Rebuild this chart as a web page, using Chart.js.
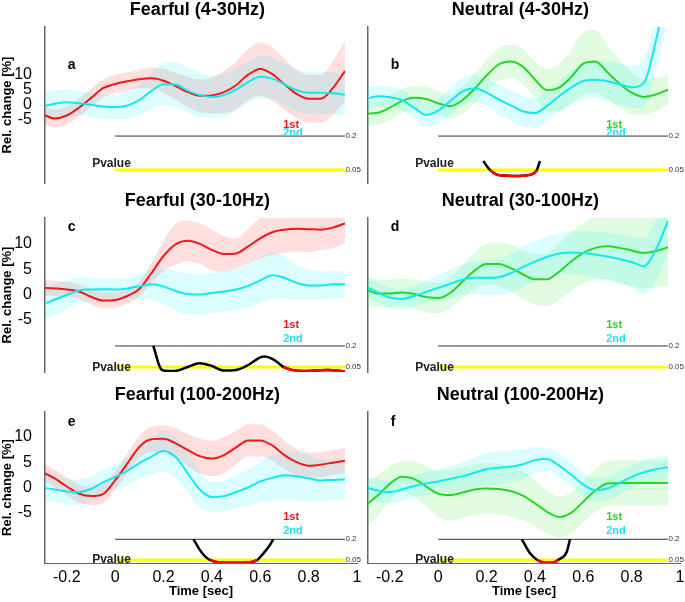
<!DOCTYPE html>
<html>
<head>
<meta charset="utf-8">
<script src="https://cdn.jsdelivr.net/npm/chart.js@4/dist/chart.umd.min.js"></script>
<style>
  body { margin: 0; background: #fff; }
  #wrap { position: relative; width: 685px; height: 602px; }
  canvas { position: absolute; }
</style>
</head>
<body>
<div id="wrap">
  <canvas id="pa" width="364" height="190" style="left:0;top:0"></canvas>
  <canvas id="pb" width="321" height="190" style="left:364px;top:0"></canvas>
  <canvas id="pc" width="364" height="190" style="left:0;top:190px"></canvas>
  <canvas id="pd" width="321" height="190" style="left:364px;top:190px"></canvas>
  <canvas id="pe" width="364" height="222" style="left:0;top:380px"></canvas>
  <canvas id="pf" width="321" height="222" style="left:364px;top:380px"></canvas>
</div>
<script>
// time axis (sec)
const times = [-0.3, -0.25, -0.2, -0.15, -0.1, -0.05, 0, 0.05, 0.1, 0.15, 0.2, 0.25, 0.3,
  0.35, 0.4, 0.45, 0.5, 0.55, 0.6, 0.65, 0.7, 0.75, 0.8, 0.85, 0.9, 0.95];
const xTicks = [-0.2, 0, 0.2, 0.4, 0.6, 0.8, 1];
const yTicks = [-5, 0, 5, 10];
const pTicks = [0.05, 0.2];
const pLines = [0.2, 0.05];

// a: Fearful (4-30Hz)
const aFirst = [-3.4, -4.8, -3.8, -1.2, 2, 5.3, 6.7, 7.6, 8.3, 8.6, 7.8, 6, 4, 2.8, 2.9, 4, 6.3, 9.8, 11.7, 10, 6.6, 3.4, 1.8, 1.8, 5.3, 11];
const aFirstErr = [3, 3, 3, 3, 3, 3, 3, 3, 3, 3.5, 4, 4.5, 5, 5.5, 6, 7, 8, 8.5, 9, 9, 8.5, 8, 8, 8, 9, 10];
const aSecond = [-0.8, 0.1, 0.6, 0.3, -0.2, -0.8, -1, -0.5, 1.3, 4.4, 6.6, 6.5, 4.5, 3, 2.4, 3, 4.8, 7.3, 9.1, 8.5, 6.6, 4.6, 3.8, 3.8, 3.6, 3.1];
const aSecondErr = [4.5, 4.5, 4.5, 4, 4, 4, 4, 4.5, 5, 6, 7, 7.5, 7.5, 7.5, 7, 7, 7, 7, 7, 7, 7, 7, 7, 7, 7, 7];

// b: Neutral (4-30Hz)
const bFirst = [-3.2, -2.9, -1.2, 1, 2.1, 1.7, 0.3, -0.7, 1.3, 5, 9.5, 13.2, 14.2, 12.5, 8.2, 4.7, 5.5, 9, 13.5, 14.2, 10.6, 6.8, 3.8, 2.4, 3.2, 4.8];
const bFirstErr = [4, 4, 4, 4, 4, 4, 4, 4, 4.5, 5, 5, 5.5, 5.5, 6, 6, 7, 8, 9, 10.5, 10.5, 9, 8, 7, 6, 5.5, 5];
const bSecond = [1.7, 2.6, 2.3, 1.3, -1.2, -3.6, -2.2, 1, 4.2, 5.3, 3.8, 1.6, -0.4, -2.4, -3, -0.6, 2.6, 5.5, 7.7, 8.1, 7.6, 6.6, 5.6, 7, 21, 40];
const bSecondErr = [3.5, 3.5, 3.5, 3.5, 3.5, 4, 4, 4.5, 4.5, 4.5, 4.5, 5, 5, 5, 5, 5, 5, 5.5, 6, 6, 6.5, 7, 7, 8, 10, 12];
const bPTime = [0.187, 0.205, 0.215, 0.242, 0.27, 0.31, 0.35, 0.38, 0.394, 0.408, 0.421];
const bPValue = [0.09, 0.062, 0.05, 0.03, 0.026, 0.024, 0.025, 0.029, 0.035, 0.05, 0.09];
const bSig = [0.215, 0.408];

// c: Fearful (30-10Hz)
const cFirst = [1.35, 1.2, 1, 0.6, -0.45, -1.2, -1.1, -0.3, 1.1, 4.2, 7.6, 9.9, 10.6, 10, 8.8, 8, 8.1, 9.5, 11.1, 12.3, 12.8, 13, 12.9, 12.8, 13.2, 14];
const cFirstErr = [1.5, 1.5, 1.5, 1.5, 1.5, 1.5, 1.5, 1.5, 1.5, 2, 3, 4, 4, 4, 4, 3.5, 3, 3.5, 4, 4.5, 4.5, 4.5, 4.5, 4, 4, 4];
const cSecond = [-1.9, -1, -0.1, 0.8, 1, 1.05, 1, 1.2, 1.6, 2, 1.6, 0.7, 0.1, 0, 0.3, 0.6, 1, 1.7, 2.8, 3.8, 3.3, 2.3, 1.8, 1.8, 2, 2];
const cSecondErr = [3, 3, 2.8, 2.5, 2.3, 2, 2, 2, 2.5, 3, 3.5, 4, 4, 4, 4, 4, 4, 4.2, 4.5, 4.6, 4.2, 3.5, 3, 2.8, 2.7, 2.7];
const cPTime = [0.158, 0.17, 0.18, 0.193, 0.22, 0.26, 0.3, 0.35, 0.4, 0.45, 0.5, 0.55, 0.6, 0.62, 0.65, 0.68, 0.696, 0.73, 0.78, 0.83, 0.88, 0.95];
const cPValue = [0.2, 0.129, 0.071, 0.029, 0.021, 0.025, 0.05, 0.076, 0.057, 0.025, 0.029, 0.064, 0.118, 0.124, 0.107, 0.071, 0.05, 0.029, 0.021, 0.025, 0.029, 0.018];
const cSig = [0.696, 0.95];

// d: Neutral (30-100Hz)
const dFirst = [1, 0.2, 0.2, 0.4, 0.1, -0.5, -0.7, 0.3, 2.5, 4.7, 6, 6, 5.2, 4, 3, 3, 4.5, 6.5, 8.2, 9.2, 9.5, 9.2, 8.7, 8.2, 8.6, 9.3];
const dFirstErr = [2.7, 2.7, 2.7, 2.7, 2.8, 3, 3, 3, 3.3, 3.6, 4, 4.3, 4.6, 4.8, 5, 5.2, 5.5, 5.8, 6, 6.3, 6.5, 6.8, 7, 7, 7.2, 7.5];
const dSecond = [1.6, 0.4, -0.6, -0.9, -0.3, 0.5, 1.3, 2.1, 2.9, 3.3, 3.3, 3.4, 4.2, 5.4, 6.5, 7.4, 8.1, 8.3, 8.2, 7.9, 7.5, 7, 6.4, 5.6, 8.8, 14.5];
const dSecondErr = [2, 2, 2, 2, 2, 2.2, 2.5, 2.8, 3, 3.2, 3.4, 3.6, 3.8, 4, 4, 4, 4, 4.2, 4.4, 4.6, 4.8, 5, 5, 5.5, 6, 6.5];

// e: Fearful (100-200Hz)
const eFirst = [3, 1.8, 0.2, -1.2, -1.7, -1.3, 1.4, 4.7, 8, 9.5, 9.6, 8.7, 7.4, 6.2, 5.7, 6.4, 7.9, 9.3, 9.3, 8.3, 6.4, 5, 4.3, 4.5, 4.9, 5.3];
const eFirstErr = [1.8, 1.8, 1.8, 1.8, 1.8, 1.8, 1.8, 2, 2.2, 2.5, 2.7, 3, 3.2, 3.4, 3.5, 3.5, 3.3, 3.2, 3.2, 3, 2.8, 2.7, 2.6, 2.5, 2.5, 2.5];
const eSecond = [0, -0.4, -0.8, -0.9, -0.3, 1, 2.1, 3.3, 4.8, 6.1, 7.2, 6, 2.8, -0.4, -1.9, -1.7, -0.9, 0, 1.2, 1.9, 2.4, 2.2, 1.8, 1.4, 1.5, 1.6];
const eSecondErr = [2.5, 2.5, 2.5, 2.5, 2.5, 2.5, 2.5, 2.8, 3, 3.5, 4, 4, 3.8, 3.5, 3, 3, 3.2, 3.6, 4, 4.5, 4.8, 4.8, 4.5, 4.2, 4, 4];
const ePTime = [0.324, 0.35, 0.375, 0.392, 0.43, 0.49, 0.55, 0.588, 0.613, 0.64, 0.654];
const ePValue = [0.2, 0.123, 0.07, 0.05, 0.031, 0.029, 0.031, 0.05, 0.098, 0.159, 0.2];
const eSig = [0.392, 0.588];

// f: Neutral (100-200Hz)
const fFirst = [-3.5, -1.6, 0.7, 2.1, 1.7, 0.2, -1.2, -1.5, -1, -0.4, -0.2, -0.3, -0.7, -1.6, -3.1, -4.8, -5.8, -5, -2.8, -0.6, 0.8, 0.9, 0.9, 0.9, 0.9, 0.9];
const fFirstErr = [4.5, 4, 3.5, 3, 3.5, 4, 4.5, 5, 5, 5, 5, 5, 5, 4.8, 4.5, 4.2, 4, 4, 4, 4.2, 4.5, 4.5, 4.5, 4.5, 4.5, 4.5];
const fSecond = [0, -0.6, -0.9, -0.4, 0.3, 0.8, 1.2, 1.7, 2.2, 2.9, 3.6, 3.9, 4.1, 4.6, 5.4, 5.6, 4.3, 2.5, 0.6, -0.5, -0.2, 0.9, 2.1, 3, 3.6, 4];
const fSecondErr = [2.2, 2.2, 2.2, 2.2, 2.2, 2.3, 2.4, 2.5, 2.8, 3, 3.2, 3.3, 3.2, 3, 2.6, 2.3, 2.3, 2.3, 2.3, 2.3, 2.3, 2.3, 2.3, 2.3, 2.3, 2.3];
const fPTime = [0.346, 0.38, 0.408, 0.43, 0.455, 0.48, 0.497, 0.532, 0.545];
const fPValue = [0.2, 0.098, 0.052, 0.034, 0.03, 0.034, 0.052, 0.11, 0.2];
const fSig = [0.405, 0.5];

const FONT = '"Liberation Sans", Arial, sans-serif';
Chart.defaults.font.family = FONT;
Chart.defaults.color = '#000';

const RED = '#f01818', CYAN = '#12e8ee', GREEN = '#26d626';
const BAND = { red: 'rgba(255,0,0,0.13)', cyan: 'rgba(0,240,255,0.14)', green: 'rgba(0,220,0,0.12)' };

const rows = [
  { yRange: [-26.3, 25.7], pRange: [-0.007, 0.681], pad: [27, 7], letterY: 13, firstY: -7, secondY: -9.7, pvalueY: 0.08 },
  { yRange: [-15.3, 15.1], pRange: [0.014, 1.114], pad: [28, 8], letterY: 13.3, firstY: -6, secondY: -8.8, pvalueY: 0.045 },
  { yRange: [-14.9, 14.9], pRange: [0.028, 1.123], pad: [32, 0], letterY: 12.9, firstY: -5.9, secondY: -8.6, pvalueY: 0.05 }
];

const panels = [
  { id: 'pa', row: 0, col: 0, title: 'Fearful (4-30Hz)', letter: 'a', first: aFirst, firstErr: aFirstErr, second: aSecond, secondErr: aSecondErr },
  { id: 'pb', row: 0, col: 1, title: 'Neutral (4-30Hz)', letter: 'b', first: bFirst, firstErr: bFirstErr, second: bSecond, secondErr: bSecondErr, pt: bPTime, pv: bPValue, sig: bSig },
  { id: 'pc', row: 1, col: 0, title: 'Fearful (30-10Hz)', letter: 'c', first: cFirst, firstErr: cFirstErr, second: cSecond, secondErr: cSecondErr, pt: cPTime, pv: cPValue, sig: cSig },
  { id: 'pd', row: 1, col: 1, title: 'Neutral (30-100Hz)', letter: 'd', first: dFirst, firstErr: dFirstErr, second: dSecond, secondErr: dSecondErr },
  { id: 'pe', row: 2, col: 0, title: 'Fearful (100-200Hz)', letter: 'e', first: eFirst, firstErr: eFirstErr, second: eSecond, secondErr: eSecondErr, pt: ePTime, pv: ePValue, sig: eSig },
  { id: 'pf', row: 2, col: 1, title: 'Neutral (100-200Hz)', letter: 'f', first: fFirst, firstErr: fFirstErr, second: fSecond, secondErr: fSecondErr, pt: fPTime, pv: fPValue, sig: fSig }
];

// titles, panel letters, 1st/2nd labels and "Pvalue" text
const deco = {
  id: 'deco',
  afterDraw(chart, args, o) {
    const { ctx, chartArea } = chart;
    const x = chart.scales.x, y = chart.scales.y, p = chart.scales.p;
    ctx.save();
    ctx.textBaseline = 'middle';
    ctx.textAlign = 'center';
    ctx.fillStyle = '#000';
    ctx.font = 'bold 18px ' + FONT;
    ctx.fillText(o.title, x.getPixelForValue(0.34), chartArea.top - 17);
    ctx.textAlign = 'left';
    ctx.font = 'bold 14px ' + FONT;
    ctx.fillText(o.letter, x.getPixelForValue(-0.196), y.getPixelForValue(o.letterY));
    ctx.font = 'bold 11px ' + FONT;
    ctx.fillStyle = o.firstColor;
    ctx.fillText('1st', x.getPixelForValue(0.695), y.getPixelForValue(o.firstY));
    ctx.fillStyle = CYAN;
    ctx.fillText('2nd', x.getPixelForValue(0.695), y.getPixelForValue(o.secondY));
    ctx.fillStyle = '#222';
    ctx.font = 'bold 12px ' + FONT;
    ctx.fillText('Pvalue', x.getPixelForValue(-0.095), p.getPixelForValue(o.pvalueY));
    ctx.restore();
  }
};

function pts(vals, add, sign) {
  return times.map((t, i) => ({ x: t, y: vals[i] + (add ? sign * add[i] : 0) }));
}

panels.forEach(pn => {
  const r = rows[pn.row];
  const left = pn.col === 0;
  const bottomRow = pn.row === 2;
  const firstColor = left ? RED : GREEN;
  const firstBand = left ? BAND.red : BAND.green;
  const base = { pointRadius: 0, borderWidth: 0, cubicInterpolationMode: 'monotone' };

  const datasets = [
    { ...base, data: pts(pn.first, pn.firstErr, 1), fill: '+1', backgroundColor: firstBand, order: 20 },
    { ...base, data: pts(pn.first, pn.firstErr, -1), fill: false, order: 20 },
    { ...base, data: pts(pn.second, pn.secondErr, 1), fill: '+1', backgroundColor: BAND.cyan, order: 19 },
    { ...base, data: pts(pn.second, pn.secondErr, -1), fill: false, order: 19 },
    { ...base, data: [{ x: 0, y: pLines[0] }, { x: 0.95, y: pLines[0] }], yAxisID: 'p', borderColor: '#333', borderWidth: 1, fill: false, order: 10 },
    { ...base, data: [{ x: 0, y: pLines[1] }, { x: 0.95, y: pLines[1] }], yAxisID: 'p', borderColor: '#ffff00', borderWidth: 3, fill: false, order: 9 },
    { ...base, data: pts(pn.first), borderColor: firstColor, borderWidth: 2, fill: false, order: 5 },
    { ...base, data: pts(pn.second), borderColor: CYAN, borderWidth: 2, fill: false, order: 4 }
  ];
  if (pn.pt) {
    const all = pn.pt.map((t, i) => ({ x: t, y: pn.pv[i] }));
    datasets.push({ ...base, data: all, yAxisID: 'p', borderColor: '#000', borderWidth: 2.5, fill: false, order: 2 });
    datasets.push({ ...base, data: all.filter(d => d.x >= pn.sig[0] && d.x <= pn.sig[1]), yAxisID: 'p', borderColor: '#ff0000', borderWidth: 2.5, fill: false, order: 1 });
  }

  new Chart(document.getElementById(pn.id), {
    type: 'line',
    data: { datasets },
    plugins: [deco],
    options: {
      responsive: false,
      animation: false,
      layout: { padding: { top: r.pad[0], bottom: r.pad[1], left: 0, right: 0 } },
      plugins: {
        legend: { display: false },
        tooltip: { enabled: false },
        filler: { propagate: false, drawTime: 'beforeDatasetsDraw' },
        deco: { title: pn.title, letter: pn.letter, firstColor, letterY: r.letterY, firstY: r.firstY, secondY: r.secondY, pvalueY: r.pvalueY }
      },
      scales: {
        x: {
          type: 'linear', min: -0.29, max: 1,
          display: bottomRow,
          grid: { display: false },
          border: { display: true, color: '#666', width: 1 },
          ticks: { font: { size: 16 }, color: '#000', padding: -3, autoSkip: false, maxRotation: 0, callback: v => String(v) },
          title: { display: true, text: 'Time [sec]', font: { size: 13, weight: 'bold' }, color: '#000', padding: { top: 0, bottom: 3 } },
          afterBuildTicks: s => { s.ticks = xTicks.map(v => ({ value: v })); },
          afterFit: s => { s.height = bottomRow ? 39 : 0; s.paddingLeft = 0; s.paddingRight = 0; }
        },
        y: {
          position: 'left', min: r.yRange[0], max: r.yRange[1],
          grid: { display: false },
          border: { display: true, color: '#666', width: 1.5 },
          ticks: { display: left, font: { size: 16 }, color: '#000', padding: 5, callback: v => String(v) },
          title: { display: left, text: 'Rel. change [%]', font: { size: 13, weight: 'bold' }, color: '#000', padding: 0 },
          afterBuildTicks: s => { s.ticks = yTicks.map(v => ({ value: v })); },
          afterFit: s => { s.width = left ? 45 : 4; s.paddingTop = 0; s.paddingBottom = 0; }
        },
        p: {
          position: 'right', min: r.pRange[0], max: r.pRange[1],
          grid: { display: false },
          border: { display: false },
          ticks: { mirror: true, crossAlign: 'far', padding: 4, font: { size: 8 }, color: '#333', callback: v => String(v) },
          afterBuildTicks: s => { s.ticks = pTicks.map(v => ({ value: v })); },
          afterFit: s => { s.width = left ? 7 : 5; s.paddingTop = 0; s.paddingBottom = 0; }
        }
      }
    }
  });
});
</script>
</body>
</html>
